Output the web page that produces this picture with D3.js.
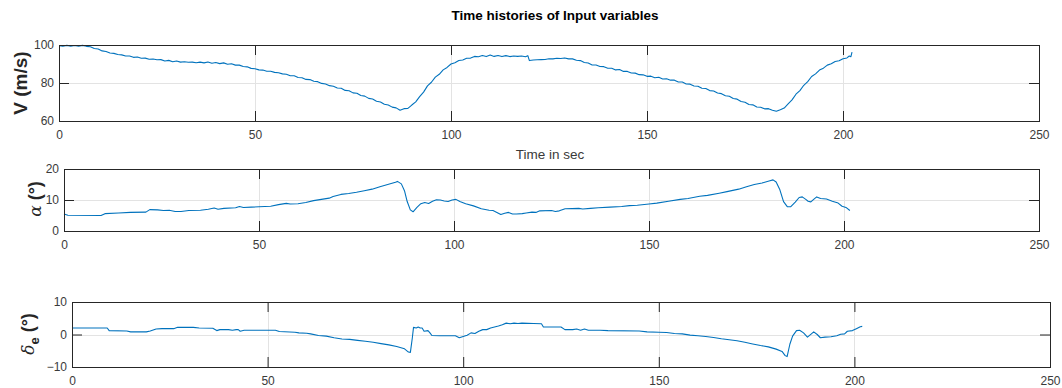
<!DOCTYPE html>
<html>
<head>
<meta charset="utf-8">
<script src="https://cdn.jsdelivr.net/npm/d3@7"></script>
<style>
  html, body { margin: 0; padding: 0; background: #fff; }
  svg { display: block; font-family: "Liberation Sans", Arial, Helvetica, sans-serif; }
</style>
</head>
<body>
<svg id="chart" width="1062" height="388"></svg>
<script>
// ---------- data ----------
const chartTitle = "Time histories of Input variables";
const xTicks = [0, 50, 100, 150, 200, 250];
const vTicks = [60, 80, 100];
const alphaTicks = [0, 10, 20];
const deltaTicks = [-10, 0, 10];

// airspeed V (m/s) : [time s, value]
const speedV = [[0,99.6],[1,99.3],[2,99.8],[3,99.4],[4,99.7],[5,99.4],[6,99.8],[7,99.3],[8,99.1],[9,98.2],[10,97.9],[11,96.9],[12,96.6],[13,95.8],[14,95.6],[15,95.0],[16,94.8],[17,94.2],[18,94.2],[19,93.5],[20,93.7],[21,93.0],[22,93.1],[23,92.5],[24,92.6],[25,92.2],[26,92.3],[27,91.6],[28,91.9],[29,91.2],[30,91.6],[31,91.0],[32,91.2],[33,90.9],[34,91.0],[35,90.7],[36,91.0],[37,90.6],[38,91.1],[39,90.4],[40,90.8],[41,90.2],[42,90.6],[43,89.9],[44,90.1],[45,89.4],[46,89.4],[47,88.7],[48,88.5],[49,87.7],[50,87.5],[51,86.9],[52,86.8],[53,86.2],[54,86.2],[55,85.6],[56,85.4],[57,84.8],[58,84.6],[59,83.8],[60,83.8],[61,82.9],[62,82.8],[63,81.9],[64,81.8],[65,80.9],[66,80.7],[67,79.8],[68,79.5],[69,78.6],[70,78.3],[71,77.4],[72,77.2],[73,76.1],[74,75.9],[75,74.8],[76,74.6],[77,73.4],[78,73.1],[79,71.9],[80,71.6],[81,70.4],[82,70.0],[83,68.8],[84,68.4],[85,67.3],[86,66.9],[87,65.7],[88,66.5],[89,66.6],[90,68.4],[91,70.1],[92,72.8],[93,75.2],[94,78.5],[95,80.4],[96,83.1],[97,84.6],[98,86.9],[99,88.2],[100,90.0],[101,90.7],[102,91.8],[103,92.1],[104,93.0],[105,93.1],[106,94.0],[107,93.8],[108,94.5],[109,93.9],[110,94.7],[111,94.0],[112,94.5],[113,93.9],[114,94.4],[115,93.9],[116,94.2],[117,94.0],[118,94.2],[119,93.8],[119.6,94.4],[120,91.8],[121,92.1],[122,92.2],[123,92.3],[124,92.4],[125,92.8],[126,92.7],[127,93.0],[128,92.9],[129,93.2],[130,92.7],[131,92.7],[132,92.0],[133,91.8],[134,90.8],[135,90.5],[136,89.5],[137,89.5],[138,88.7],[139,88.6],[140,87.8],[141,87.8],[142,86.9],[143,87.1],[144,86.1],[145,86.1],[146,85.3],[147,85.2],[148,84.4],[149,84.3],[150,83.5],[151,83.6],[152,82.8],[153,83.0],[154,82.1],[155,82.2],[156,81.5],[157,81.5],[158,80.5],[159,80.5],[160,79.5],[161,79.4],[162,78.4],[163,78.3],[164,77.2],[165,77.1],[166,76.0],[167,75.8],[168,74.7],[169,74.4],[170,73.3],[171,73.0],[172,71.8],[173,71.5],[174,70.3],[175,69.9],[176,68.7],[177,68.5],[178,67.4],[179,67.2],[180,66.4],[181,66.5],[182,65.7],[183,65.1],[184,65.9],[185,66.8],[186,69.0],[187,71.1],[188,74.1],[189,76.0],[190,78.8],[191,80.7],[192,83.4],[193,84.8],[194,86.8],[195,87.8],[196,89.4],[197,90.1],[198,91.3],[199,91.7],[200,92.8],[201,93.2],[201.6,94.2],[202,93.8],[202.3,96.2]];

// angle of attack alpha (deg)
const alphaDeg = [[0,5.5],[1,5.1],[9.5,5.0],[10.5,5.6],[14,5.8],[17,6.0],[21,6.1],[22,6.9],[24,6.8],[25.5,6.6],[27,6.7],[28.5,6.3],[30,6.3],[32,6.6],[35,6.7],[37,7.0],[38.5,7.4],[39.5,7.0],[41,7.3],[44,7.5],[45,7.9],[46,7.6],[48,7.7],[50,7.8],[53,8.0],[55,8.5],[57,8.9],[58,8.7],[60,8.8],[62,9.2],[64,9.8],[66,10.2],[68,10.6],[69,11.1],[71,11.8],[73,12.1],[75,12.5],[77,13.0],[79,13.5],[81,14.3],[83,15.0],[85,15.7],[85.5,16.0],[86.5,15.2],[87.3,13.0],[88,9.5],[88.8,6.8],[89.5,6.2],[90.5,7.6],[91.5,8.8],[92.5,9.2],[93.5,8.9],[94.5,9.6],[95.5,10.1],[96.5,10.0],[97.5,9.7],[98.5,9.5],[99.5,10.0],[100.5,10.2],[101.5,9.5],[103,8.8],[105,8.1],[107,7.2],[109,6.7],[110,6.6],[111,6.0],[112,5.3],[113,5.7],[114,6.0],[115,5.5],[116,5.5],[117.5,5.6],[118.5,5.8],[120,6.1],[121,6.0],[122,6.5],[125,6.6],[126,6.3],[127,6.5],[128.5,7.2],[132,7.3],[133,7.1],[135,7.3],[137,7.5],[140,7.7],[143,7.9],[145,8.2],[147,8.3],[150,8.7],[152,9.0],[155,9.6],[158,10.2],[160,10.5],[163,11.2],[165,11.5],[168,12.2],[170,12.7],[173,13.5],[175,14.3],[177,15.0],[179,15.5],[181,16.2],[181.8,16.5],[182.6,15.8],[183.5,13.5],[184.5,9.5],[185.5,7.8],[186.3,7.8],[187.5,9.3],[188.5,10.8],[189.3,11.0],[190.2,10.2],[190.8,9.6],[191.5,9.4],[192.3,10.3],[193,11.0],[194,10.5],[195.5,10.3],[197,9.6],[198.5,9.0],[199.5,8.0],[200.5,7.6],[201.5,6.6]];

// elevator deflection delta_e (deg)
const deltaE = [[0,2.0],[9,2.0],[9.5,1.2],[14,1.1],[15,0.8],[19,0.8],[20,1.1],[21.5,1.7],[23,1.8],[26,1.8],[27,2.2],[31,2.2],[32.5,2.0],[36,1.9],[37,1.2],[37.8,1.5],[40,1.5],[41,1.3],[42,1.5],[42.5,1.5],[43,1.0],[44,1.3],[48,1.3],[52,1.3],[53,0.9],[57,0.7],[58,0.5],[60,0.4],[61,0.2],[63,-0.3],[65,-0.5],[67,-1.0],[69,-1.4],[71,-1.5],[73,-1.8],[75,-2.1],[77,-2.4],[79,-2.8],[81,-3.2],[83,-3.7],[85,-4.4],[86,-5.4],[86.5,-5.5],[87.0,-1.0],[87.3,2.2],[88,2.0],[88.5,2.3],[89,2.0],[89.5,2.0],[90,1.0],[91,1.2],[91.5,0.5],[92,-0.3],[94,-0.4],[96,-0.4],[98,-0.4],[99,-1.0],[100,-0.6],[101,-0.2],[102,0.5],[103,0.3],[104,1.0],[105,1.5],[106,1.5],[107,2.0],[108,2.3],[109,2.6],[110,3.0],[111,3.5],[112,3.3],[113,3.5],[114,3.4],[115,3.5],[118,3.4],[120,3.3],[120.5,2.3],[125,2.3],[126,1.5],[128,1.5],[129,1.7],[130,1.3],[131,1.7],[132,1.3],[135,1.3],[137,1.2],[145,1.1],[147,0.8],[150,0.7],[152,0.6],[154,0.3],[156,0.2],[158,-0.2],[160,-0.4],[162,-0.6],[164,-0.9],[166,-1.3],[168,-1.6],[170,-1.9],[172,-2.4],[174,-2.9],[176,-3.4],[178,-3.8],[180,-4.5],[181.5,-5.2],[182.3,-6.5],[182.8,-6.8],[183.5,-3.0],[184.2,-0.5],[185.2,1.2],[186,1.3],[187,0.5],[188,-0.8],[189,0.2],[189.6,0.8],[190.5,0.0],[191.3,-1.0],[192.5,-0.8],[194,-0.7],[195.5,-0.4],[196.5,0.1],[197.5,0.2],[198.2,1.0],[199.5,1.2],[200.5,1.8],[201.5,2.4],[202,2.5]];

// ---------- layout ----------
const svg = d3.select("#chart");
const LINE = "#0072BD", AXIS = "#262626", GRID = "#e3e3e3", TICKTXT = "#3a3a3a";

const panels = [
  { data: speedV, yDom: [60, 100], yTicks: vTicks, box: [59, 1039, 45, 121], label: "V" },
  { data: alphaDeg, yDom: [0, 20], yTicks: alphaTicks, box: [64, 1039, 169, 231], label: "alpha" },
  { data: deltaE, yDom: [-10, 10], yTicks: deltaTicks, box: [72, 1050, 302, 367], label: "delta" }
];

panels.forEach((p, i) => {
  const [x0, x1, y0, y1] = p.box;
  const x = d3.scaleLinear().domain([0, 250]).range([x0, x1]);
  const y = d3.scaleLinear().domain(p.yDom).range([y1, y0]);
  const g = svg.append("g");

  // grid
  g.append("g").selectAll("line").data(xTicks).join("line")
    .attr("x1", d => Math.round(x(d)) + 0.5).attr("x2", d => Math.round(x(d)) + 0.5)
    .attr("y1", y0).attr("y2", y1).attr("stroke", GRID).attr("stroke-width", 1);
  g.append("g").selectAll("line").data(p.yTicks).join("line")
    .attr("y1", d => Math.round(y(d)) + 0.5).attr("y2", d => Math.round(y(d)) + 0.5)
    .attr("x1", x0).attr("x2", x1).attr("stroke", GRID).attr("stroke-width", 1);

  // data line
  g.append("path").datum(p.data)
    .attr("fill", "none").attr("stroke", LINE).attr("stroke-width", 1.1)
    .attr("stroke-linejoin", "round")
    .attr("d", d3.line().x(d => x(d[0])).y(d => y(d[1])));

  // axes
  const styleAxis = (sel) => {
    sel.select(".domain").remove();
    sel.selectAll(".tick line").attr("stroke", AXIS);
    sel.selectAll(".tick text").attr("fill", TICKTXT)
      .style("font-size", "12px").style("font-family", "'Liberation Sans', Arial, sans-serif");
  };
  g.append("g").attr("transform", `translate(0,${y1})`)
    .call(d3.axisBottom(x).tickValues(xTicks).tickSizeInner(-10).tickSizeOuter(0).tickPadding(9).tickFormat(d3.format("d")))
    .call(styleAxis);
  g.append("g").attr("transform", `translate(0,${y0})`)
    .call(d3.axisTop(x).tickValues(xTicks).tickSizeInner(-10).tickSizeOuter(0).tickFormat(""))
    .call(styleAxis);
  g.append("g").attr("transform", `translate(${x0},0)`)
    .call(d3.axisLeft(y).tickValues(p.yTicks).tickSizeInner(-10).tickSizeOuter(0).tickPadding(5).tickFormat(d3.format("d")))
    .call(styleAxis);
  g.append("g").attr("transform", `translate(${x1},0)`)
    .call(d3.axisRight(y).tickValues(p.yTicks).tickSizeInner(-10).tickSizeOuter(0).tickFormat(""))
    .call(styleAxis);

  // box
  g.append("rect").attr("x", x0 + 0.5).attr("y", y0 + 0.5)
    .attr("width", x1 - x0).attr("height", y1 - y0)
    .attr("fill", "none").attr("stroke", AXIS).attr("stroke-width", 1);
});

// title
svg.append("text").attr("x", 555).attr("y", 20).attr("text-anchor", "middle")
  .style("font-size", "13.5px").style("font-weight", "bold").attr("fill", "#000")
  .text(chartTitle);

// x label
svg.append("text").attr("x", 550).attr("y", 159).attr("text-anchor", "middle")
  .style("font-size", "13.5px").attr("fill", TICKTXT).text("Time in sec");

// y labels
svg.append("text").attr("transform", "translate(27,83) rotate(-90)").attr("text-anchor", "middle")
  .style("font-size", "19px").style("font-weight", "bold").attr("fill", "#262626")
  .text("V (m/s)");

const aLab = svg.append("text").attr("transform", "translate(41,199) rotate(-90)").attr("text-anchor", "middle")
  .style("font-size", "18px").attr("fill", "#262626");
aLab.append("tspan").style("font-family", "'DejaVu Serif', 'Liberation Serif', serif").style("font-style", "italic").style("font-size", "17px").text("α");
aLab.append("tspan").style("font-weight", "bold").text(" (°)");

const dLab = svg.append("text").attr("transform", "translate(34,334) rotate(-90)").attr("text-anchor", "middle")
  .style("font-size", "18px").attr("fill", "#262626");
dLab.append("tspan").style("font-family", "'DejaVu Serif', 'Liberation Serif', serif").style("font-style", "italic").style("font-size", "17px").text("δ");
dLab.append("tspan").style("font-weight", "bold").style("font-size", "13px").attr("dy", 5).text("e");
dLab.append("tspan").style("font-weight", "bold").attr("dy", -5).text(" (°)");
</script>
</body>
</html>
